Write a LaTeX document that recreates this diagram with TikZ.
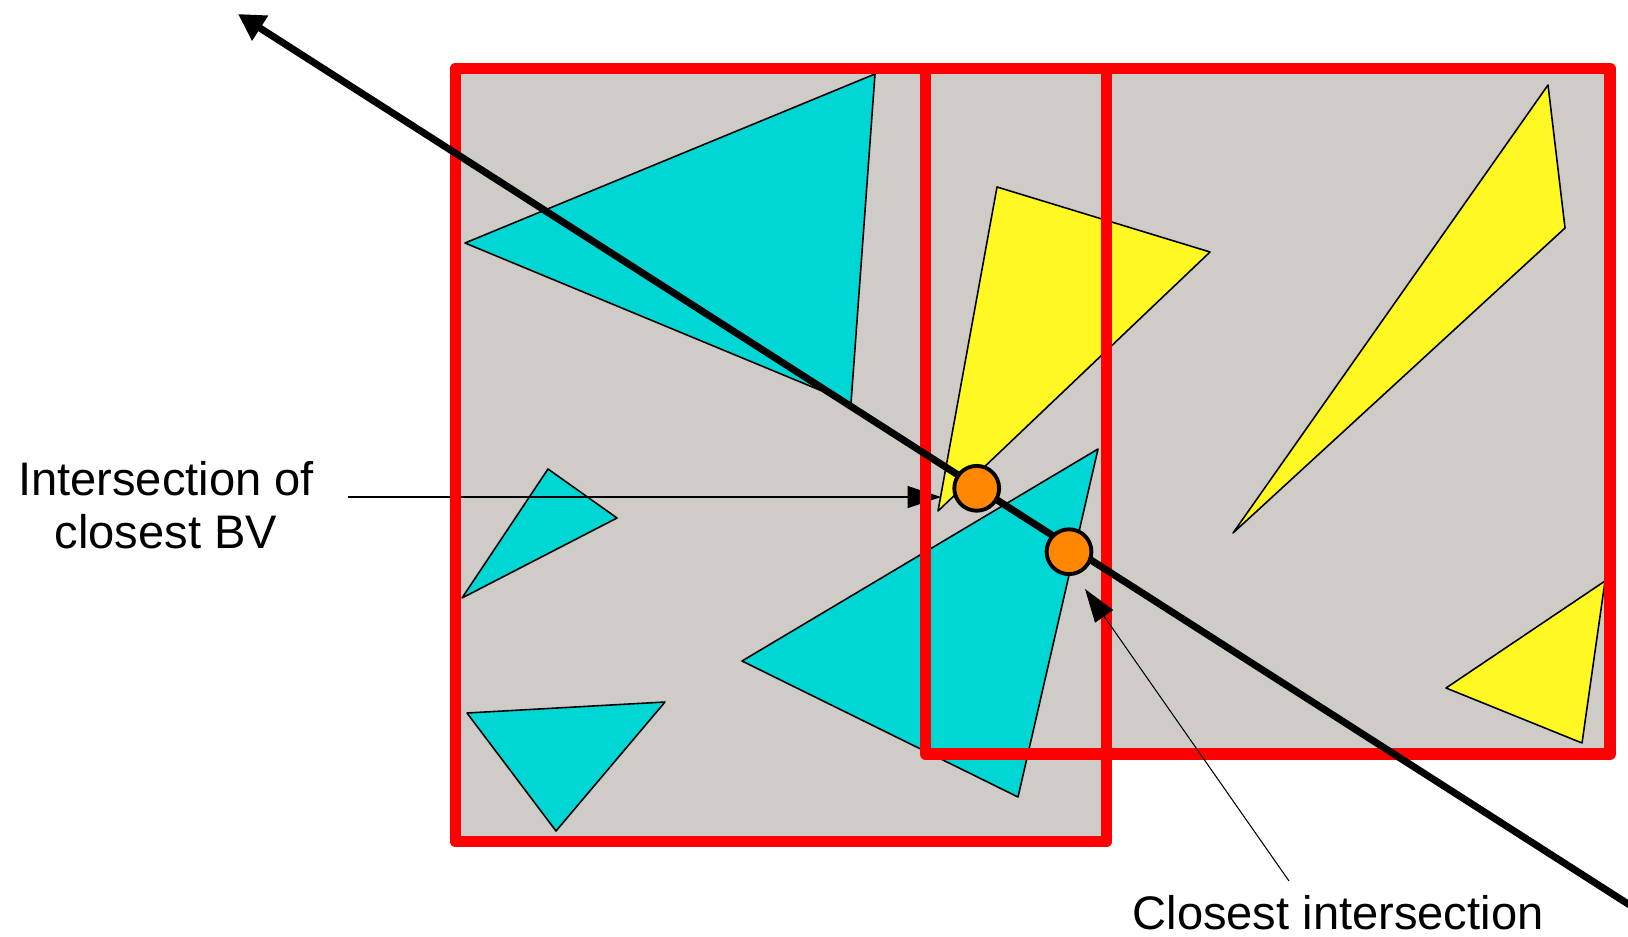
\documentclass[tikz,border=0pt]{standalone}
\usepackage{fontspec}
\setmainfont{Liberation Sans}
\usetikzlibrary{arrows.meta}
\definecolor{bvgray}{RGB}{207,204,200}
\definecolor{tricyan}{RGB}{0,215,213}
\definecolor{triyellow}{RGB}{255,248,34}
\definecolor{hitorange}{RGB}{255,136,0}
\begin{document}
\begin{tikzpicture}[x=0.02cm,y=-0.02cm, font=\fontsize{26.8}{30}\selectfont, line join=round]
	\def\bw{6.6pt}% border of the boxes
	\tikzset{tri/.style={draw=black,line width=0.9pt},
		pointer/.style={line width=0.6pt,-{Triangle[length=19pt,width=12.5pt]}},
		hit/.style={circle,draw=black,fill=hitorange,line width=2.2pt,minimum size=25.5pt,inner sep=0pt}}
	\useasboundingbox (0,0) rectangle (1628,936);
	\clip (0,0) rectangle (1628,936);
	\fill[bvgray] (455.5,68.5) rectangle (1106.5,841.5) (925.5,68.5) rectangle (1610,754);
	\foreach \ax/\ay/\bx/\by/\cx/\cy in {465/243/875/74/851/403, 548/469/617/518/462/598,
		742/661/1098/449/1018/797, 467/713/665/702/556/831}
	\draw[tri,fill=tricyan] (\ax,\ay)--(\bx,\by)--(\cx,\cy)--cycle;
	\foreach \ax/\ay/\bx/\by/\cx/\cy in {997/187/1210/252/938/511, 1548/85/1565/228/1233/533,
		1605/581/1582/743/1446/688}
	\draw[tri,fill=triyellow] (\ax,\ay)--(\bx,\by)--(\cx,\cy)--cycle;
	\coordinate (bvtail) at (348,497); \coordinate (bvhit) at (941,497);
	\coordinate (cltail) at (1289,881); \coordinate (clhit) at (1085,589);
	\draw[pointer] (bvtail)--(bvhit);
	\draw[red,line width=\bw] (455.5,68.5) rectangle (1106.5,841.5) (925.5,68.5) rectangle (1610,754);
	\draw[pointer] (cltail)--(clhit);
	% ray
	\coordinate (rayend) at (1650,918); \coordinate (raytip) at (238,14);
	\draw[line width=4pt,-{Triangle[length=15pt,width=16pt]}] (rayend)--(raytip);
	\node[hit] (hitbv) at (976.7,488.3) {};
	\node[hit] (hitclose) at (1069,551.7) {};
	\node[align=center,anchor=north,inner sep=0pt] (bvlabel) at (166,461) {Intersection of\\closest BV};
	\node[anchor=base,inner sep=0pt] (closelabel) at (1338,929) {Closest intersection};
\end{tikzpicture}
\end{document}
